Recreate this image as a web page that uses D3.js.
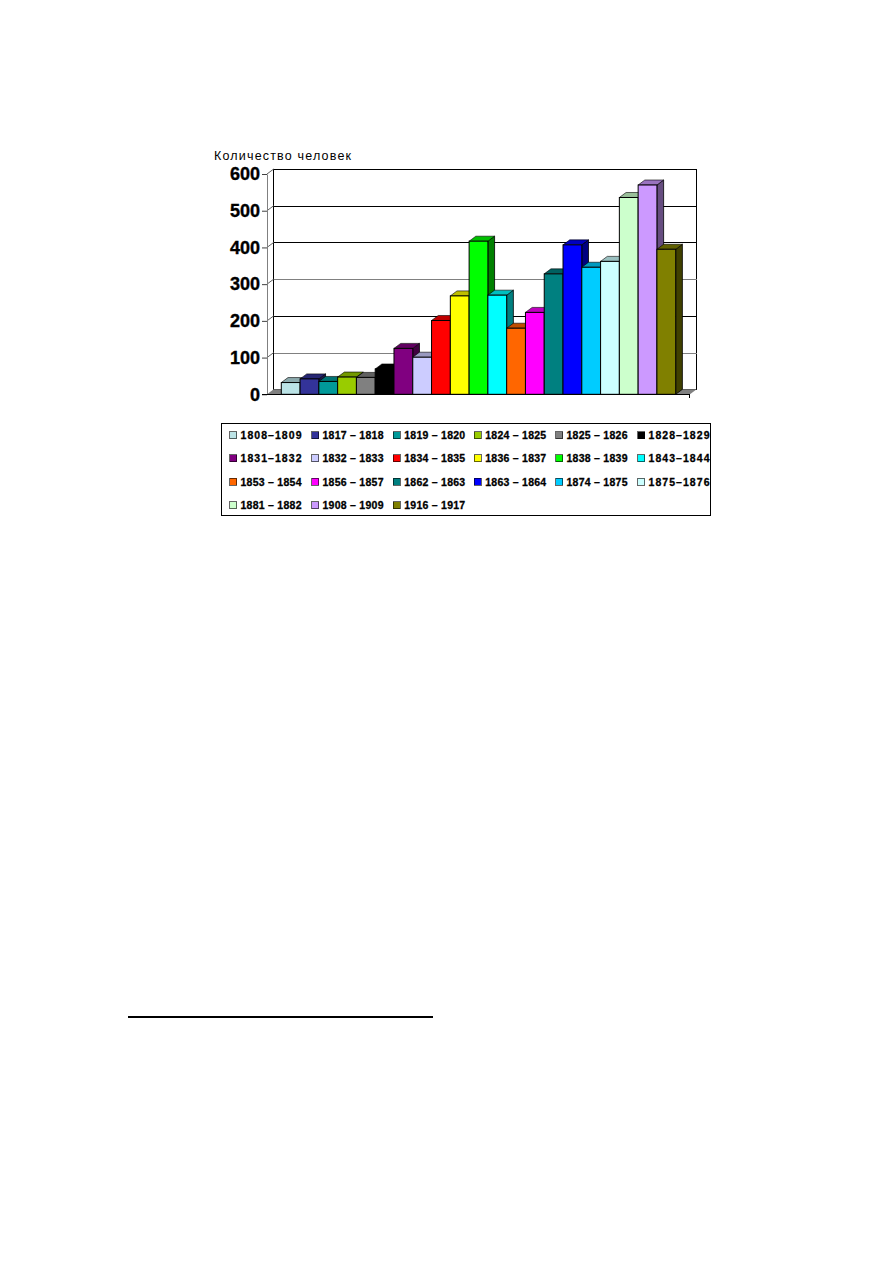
<!DOCTYPE html>
<html><head><meta charset="utf-8">
<script src="https://cdn.jsdelivr.net/npm/d3@7"></script>
<style>html,body{margin:0;padding:0;background:#fff}svg{display:block}text{font-family:"Liberation Sans",Arial,sans-serif;fill:#000}</style>
</head><body><div id="c"></div>
<script>
const periods=["1808–1809","1817 – 1818","1819 – 1820","1824 – 1825","1825 – 1826","1828–1829","1831–1832","1832 – 1833","1834 – 1835","1836 – 1837","1838 – 1839","1843–1844","1853 – 1854","1856 – 1857","1862 – 1863","1863 – 1864","1874 – 1875","1875–1876","1881 – 1882","1908 – 1909","1916 – 1917"];
const people=[32,42,35,47,46,69,125,101,201,268,417,270,180,223,328,407,346,362,536,570,395];
const colours=["#BBE3E6","#333399","#009999","#99CC00","#808080","#000000","#800080","#CCCCFF","#FF0000","#FFFF00","#00FF00","#00FFFF","#FF6600","#FF00FF","#008080","#0000FF","#00CCFF","#CCFFFF","#CCFFCC","#CC99FF","#808000"];
const yTicks=[0,100,200,300,400,500,600];
const gridColours=["#808080","#808080","#000","#808080","#000","#000","#000"];
const yTitle="Количество человек";

const W=893,H=1263,dx=6.7,dy=5;
const svg=d3.select("#c").append("svg").attr("width",W).attr("height",H).attr("viewBox",`0 0 ${W} ${H}`);
const x=d3.scaleBand().domain(periods).range([281.3,675.7]);
const y=d3.scaleLinear().domain([0,600]).range([394.3,174]);
const L=267,R=690;
const crisp=s=>s.attr("shape-rendering","crispEdges");

// walls and floor
svg.append("rect").attr("x",L+dx).attr("y",y(600)-dy).attr("width",R-L).attr("height",y(0)-y(600))
  .attr("fill","#fff").attr("stroke","#000").attr("stroke-width",1).call(crisp);
svg.selectAll("line.grid").data(yTicks.slice(1,-1)).join("line").attr("class","grid")
  .attr("x1",L+dx).attr("x2",R+dx).attr("y1",d=>Math.round(y(d)-dy)).attr("y2",d=>Math.round(y(d)-dy))
  .attr("stroke",d=>gridColours[yTicks.indexOf(d)]).call(crisp);
svg.selectAll("path.wall").data(yTicks.slice(1)).join("path").attr("class","wall")
  .attr("d",d=>`M${L},${y(d)}L${L+dx},${y(d)-dy}`).attr("stroke","#606060").attr("fill","none");
svg.append("path").attr("d",`M${L},${y(0)}L${L+dx},${y(0)-dy}L${R+dx},${y(0)-dy}L${R},${y(0)}Z`).attr("fill","#808080");

// bars
const bars=svg.selectAll("g.bar").data(periods).join("g").attr("class","bar");
const darker=(c,k)=>{const r=d3.rgb(c);return d3.rgb(r.r*k,r.g*k,r.b*k).formatHex()};
bars.each(function(p,i){
  const g=d3.select(this),x0=x(p),x1=x0+x.bandwidth(),t=y(people[i]),b=y(0);
  g.append("path").attr("d",`M${x1},${t}L${x1+dx},${t-dy}L${x1+dx},${b-dy}L${x1},${b}Z`)
    .attr("fill",darker(colours[i],.5)).attr("stroke","#000").attr("stroke-width",.8);
  g.append("path").attr("d",`M${x0},${t}L${x0+dx},${t-dy}L${x1+dx},${t-dy}L${x1},${t}Z`)
    .attr("fill",i===5?"#000":darker(colours[i],.75)).attr("stroke","#000").attr("stroke-width",.6);
  g.append("rect").attr("x",x0).attr("y",t).attr("width",x.bandwidth()).attr("height",b-t)
    .attr("fill",colours[i]).attr("stroke","#000").attr("stroke-width",1);
});

// axes
const ax=svg.append("g").attr("transform",`translate(${L},0)`)
  .call(d3.axisLeft(y).tickValues(yTicks).tickSize(5).tickPadding(2).tickSizeOuter(0));
ax.select(".domain").attr("stroke","#808080");
ax.selectAll(".tick line").attr("stroke","#404040");
ax.selectAll("text").attr("font-size",18).attr("font-weight","bold").attr("font-family",'"Liberation Sans"')
  .attr("fill","#000").attr("stroke","#000").attr("stroke-width",.35);
svg.append("line").attr("x1",L-5).attr("x2",R).attr("y1",y(0)).attr("y2",y(0)).attr("stroke","#000").call(crisp);
svg.append("line").attr("x1",R-1).attr("x2",R-1).attr("y1",y(0)).attr("y2",y(0)+4).attr("stroke","#000").call(crisp);
svg.append("text").attr("x",214).attr("y",159.5).attr("font-size",12.5).attr("textLength",137).attr("lengthAdjust","spacing").text(yTitle);

// legend
svg.append("rect").attr("x",221.5).attr("y",423.5).attr("width",489).attr("height",92)
  .attr("fill","#fff").attr("stroke","#000").call(crisp);
const colX=d3.scaleOrdinal().domain(d3.range(6)).range([229,311,392.7,473.7,555,637]);
const rowY=d3.scaleOrdinal().domain(d3.range(4)).range([435,458,481.5,505]);
const leg=svg.selectAll("g.leg").data(periods).join("g").attr("class","leg")
  .attr("transform",(p,i)=>`translate(${colX(i%6)},${rowY(Math.floor(i/6))})`);
leg.append("rect").attr("x",.5).attr("y",-3.5).attr("width",7).attr("height",7)
  .attr("fill",(p,i)=>colours[i]).attr("stroke","#000").attr("stroke-width",.6).call(crisp);
leg.append("text").attr("x",11.5).attr("y",4).attr("font-size",10.5).attr("font-weight","bold")
  .attr("stroke","#000").attr("stroke-width",.3)
  .attr("textLength",61).attr("lengthAdjust","spacing").text(p=>p);

// footnote rule
svg.append("line").attr("x1",128).attr("x2",433).attr("y1",1017).attr("y2",1017).attr("stroke","#000").attr("stroke-width",2).call(crisp);
</script></body></html>
